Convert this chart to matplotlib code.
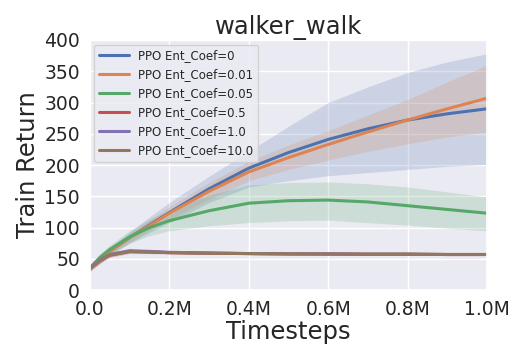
import numpy as np
import matplotlib
matplotlib.use("Agg")
import matplotlib.pyplot as plt
import seaborn as sns
from matplotlib.ticker import FuncFormatter

sns.set_theme(style="darkgrid")
plt.rcParams['font.family'] = ['DejaVu Sans']

steps = [0, 0.025e6, 0.05e6, 0.1e6, 0.15e6, 0.2e6, 0.3e6, 0.4e6, 0.5e6, 0.6e6, 0.7e6, 0.8e6, 0.9e6, 1.0e6]

labels = ["PPO Ent_Coef=0", "PPO Ent_Coef=0.01", "PPO Ent_Coef=0.05",
          "PPO Ent_Coef=0.5", "PPO Ent_Coef=1.0", "PPO Ent_Coef=10.0"]

mean_0 = [35, 48, 62, 84, 104, 124, 162, 195, 220, 241, 258, 272, 282, 290]
low_0 = [30, 42, 55, 75, 92, 108, 140, 165, 175, 183, 188, 193, 198, 201]
high_0 = [40, 54, 68, 93, 117, 140, 182, 222, 262, 300, 325, 348, 365, 378]

mean_001 = [35, 48, 62, 84, 103, 123, 158, 189, 212, 233, 253, 272, 290, 307]
low_001 = [30, 43, 56, 77, 95, 113, 145, 175, 193, 208, 222, 234, 245, 253]
high_001 = [40, 53, 68, 91, 112, 133, 172, 206, 232, 255, 280, 305, 333, 360]

mean_005 = [35, 52, 65, 85, 100, 111, 127, 139, 143, 144, 141, 135, 129, 123]
low_005 = [30, 46, 58, 75, 87, 95, 103, 108, 111, 112, 108, 104, 99, 95]
high_005 = [40, 58, 72, 95, 113, 127, 152, 168, 172, 173, 170, 165, 157, 149]

mean_05 = [35, 47, 56, 62, 61, 60, 59, 58.5, 58, 58, 57.5, 57.5, 57, 57]
mean_1 = [36, 48, 57, 63, 62, 60.5, 59.5, 58.5, 58, 58, 57.5, 57.5, 57, 57]
mean_10 = [35, 47, 56, 61.5, 61, 60, 59, 58.5, 58, 57.5, 57.5, 57.5, 57, 57]
spread_small = [4, 4, 3.5, 3, 2.5, 2, 1.5, 1.5, 1.2, 1.2, 1.2, 1.2, 1.2, 1.2]

colors = sns.color_palette("deep")

fig = plt.figure(figsize=(5.25, 3.6), dpi=100)
ax = fig.add_axes([0.171, 0.194, 0.757, 0.695])

x = np.array(steps)
series = [
    (mean_0, low_0, high_0),
    (mean_001, low_001, high_001),
    (mean_005, low_005, high_005),
    (mean_05, list(np.array(mean_05) - np.array(spread_small)), list(np.array(mean_05) + np.array(spread_small))),
    (mean_1, list(np.array(mean_1) - np.array(spread_small)), list(np.array(mean_1) + np.array(spread_small))),
    (mean_10, list(np.array(mean_10) - np.array(spread_small)), list(np.array(mean_10) + np.array(spread_small))),
]

for i, (m, lo, hi) in enumerate(series):
    ax.fill_between(x, lo, hi, color=colors[i], alpha=0.2, linewidth=0)
    ax.plot(x, m, color=colors[i], lw=2.2, label=labels[i])

ax.set_xlim(0, 1.0e6)
ax.set_ylim(0, 400)
ax.set_xticks([0, 0.2e6, 0.4e6, 0.6e6, 0.8e6, 1.0e6])
ax.set_yticks(range(0, 401, 50))

def fmt(v, pos):
    if v == 0:
        return "0.0"
    return f"{v/1e6:.1f}M"
ax.xaxis.set_major_formatter(FuncFormatter(fmt))
ax.tick_params(labelsize=13.5, pad=1)
ax.set_xlabel("Timesteps", fontsize=17.5, labelpad=1)
ax.set_ylabel("Train Return", fontsize=17.5, labelpad=3)
ax.set_title("walker_walk", fontsize=17.5, pad=4)
ax.legend(loc="upper left", fontsize=8.5, handlelength=2.5, borderaxespad=0.4)

fig.savefig("out.png", dpi=100)
